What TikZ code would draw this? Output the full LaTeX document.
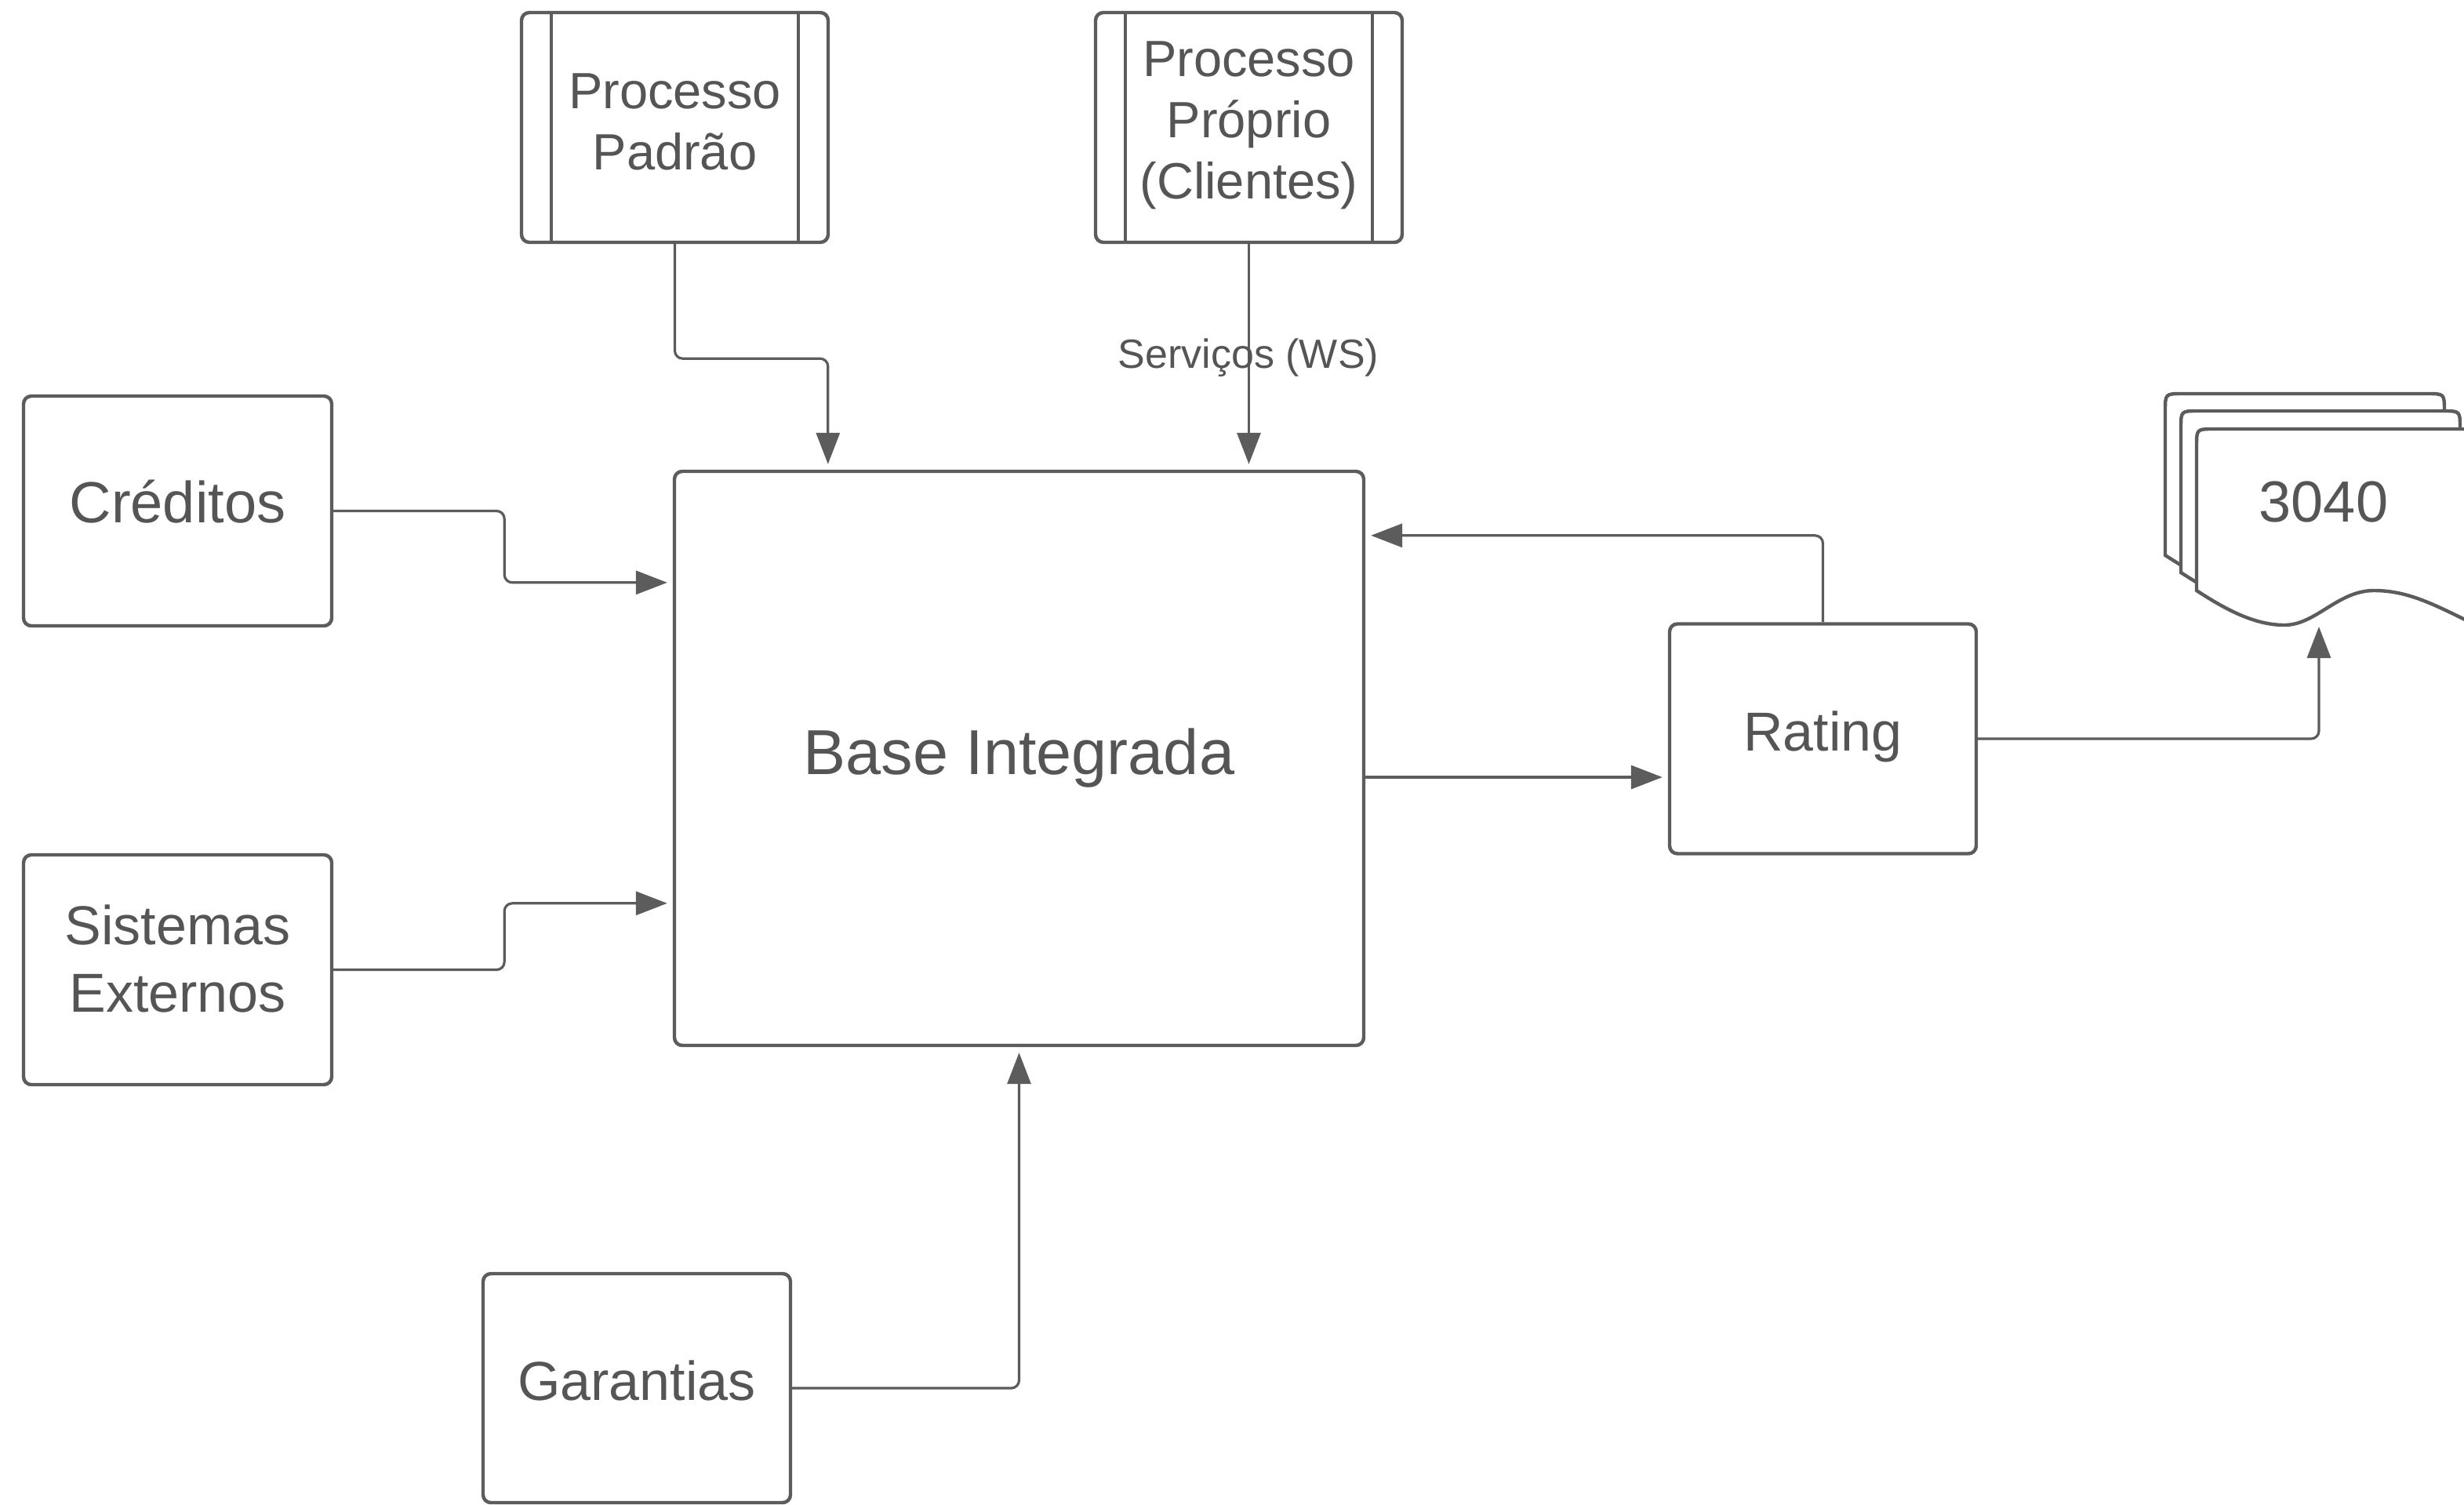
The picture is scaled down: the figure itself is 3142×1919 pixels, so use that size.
\documentclass[tikz,border=0pt]{standalone}
\usepackage{fontspec}
\setmainfont{Liberation Sans}
\usetikzlibrary{arrows.meta,calc}
\definecolor{ln}{HTML}{5C5C5C}
\definecolor{tx}{HTML}{555555}
\begin{document}
\begin{tikzpicture}[x=0.25pt,y=-0.25pt,
  box/.style={draw=ln, line width=1.1pt, rounded corners=2.5pt, fill=white, inner sep=0pt},
  bar/.style={draw=ln, line width=1.1pt},
  conn/.style={draw=ln, line width=0.8pt, rounded corners=2.5pt, -{Triangle[length=10pt,width=7.5pt]}, shorten >=1.75pt},
  txt/.style={text=tx, align=center, inner sep=0pt},
  docsheet/.style={draw=ln, line width=1.1pt, fill=white},
  fbig/.style={font=\fontsize{20.25}{24}\selectfont},
  fbox/.style={font=\fontsize{17.5}{21.5}\selectfont},
  fboxl/.style={font=\fontsize{18.5}{22}\selectfont},
  fproc/.style={font=\fontsize{16.25}{19.5}\selectfont},
  fsmall/.style={font=\fontsize{13}{15}\selectfont}
]
\useasboundingbox (0,0) rectangle (3142,1919);
\fill[white] (0,0) rectangle (3142,1919);

% boxes
\node[box, minimum width=97.75pt, minimum height=73.25pt] (padrao) at (860.5,162.5) {};
\node[box, minimum width=97.75pt, minimum height=73.25pt] (proprio) at (1592.5,162.5) {};
\draw[bar] ([xshift=10pt]padrao.north west) -- ([xshift=10pt]padrao.south west);
\draw[bar] ([xshift=-10pt]padrao.north east) -- ([xshift=-10pt]padrao.south east);
\draw[bar] ([xshift=10pt]proprio.north west) -- ([xshift=10pt]proprio.south west);
\draw[bar] ([xshift=-10pt]proprio.north east) -- ([xshift=-10pt]proprio.south east);

\node[box, minimum width=98.25pt, minimum height=73.25pt] (cred) at (226.5,651.5) {};
\node[box, minimum width=98.25pt, minimum height=73.25pt] (sist) at (226.5,1236.5) {};
\node[box, minimum width=219.75pt, minimum height=183pt] (base) at (1299.5,967) {};
\node[box, minimum width=97.75pt, minimum height=73.25pt] (rating) at (2324.5,942) {};
\node[box, minimum width=98pt, minimum height=73pt] (gar) at (812,1770) {};

% texts
\node[txt, fproc] (tpadrao) at (860.5,155) {Processo\\Padrão};
\node[txt, fproc] (tproprio) at (1592.5,160) {Processo\\Próprio\\(Clientes)};
\node[txt, fboxl] (tcred) at (226.5,640) {Créditos};
\node[txt, fbox] (tsist) at (226.5,1222) {Sistemas\\Externos};
\node[txt, fbig] (tbase) at (1299.5,967) {Base Integrada};
\node[txt, fbox] (trating) at (2324.5,939) {Rating};
\node[txt, fbox] (tgar) at (812,1760) {Garantias};

% document stack (cut by the right edge)
\begin{scope}
\clip (0,0) rectangle (3142,1919);
\foreach \x/\y in {2761/502, 2781/524, 2801/547}{
  \draw[docsheet] (\x,\y+206) -- (\x,\y+22) .. controls (\x,\y) .. (\x+22,\y)
    -- (\x+334,\y) .. controls (\x+356,\y) .. (\x+356,\y+22)
    -- (\x+356,\y+250)
    .. controls (\x+300,\y+222) and (\x+268,\y+206) .. (\x+226,\y+206)
    .. controls (\x+180,\y+206) and (\x+152,\y+250) .. (\x+112,\y+250)
    .. controls (\x+72,\y+250) and (\x+34,\y+228) .. (\x,\y+206) -- cycle;
}
\end{scope}
\node[txt, fboxl] (t3040) at (2963,640) {3040};
\coordinate (docin) at (2957,792);

% connectors
\draw[conn] (padrao.south) -- ++(0,146) -| ($(base.north west)+(198,0)$);
\draw[conn] (proprio.south) -- (proprio.south |- base.north);
\node[txt, fsmall] (ws) at (1592,456) {Serviços (WS)};
\draw[conn] (cred.east) -- ++(218,0) |- ($(base.north west)+(0,144)$);
\draw[conn] (sist.east) -- ++(218,0) |- ($(base.north west)+(0,553)$);
\draw[conn] (gar.east) -| (base.south);
\coordinate (rin) at ($(rating.west)+(0,49)$);
\draw[conn] (rin -| base.east) -- (rin);
\draw[conn] (rating.north) |- ($(base.north east)+(0,84)$);
\draw[conn] (rating.east) -| (docin);
\end{tikzpicture}
\end{document}
